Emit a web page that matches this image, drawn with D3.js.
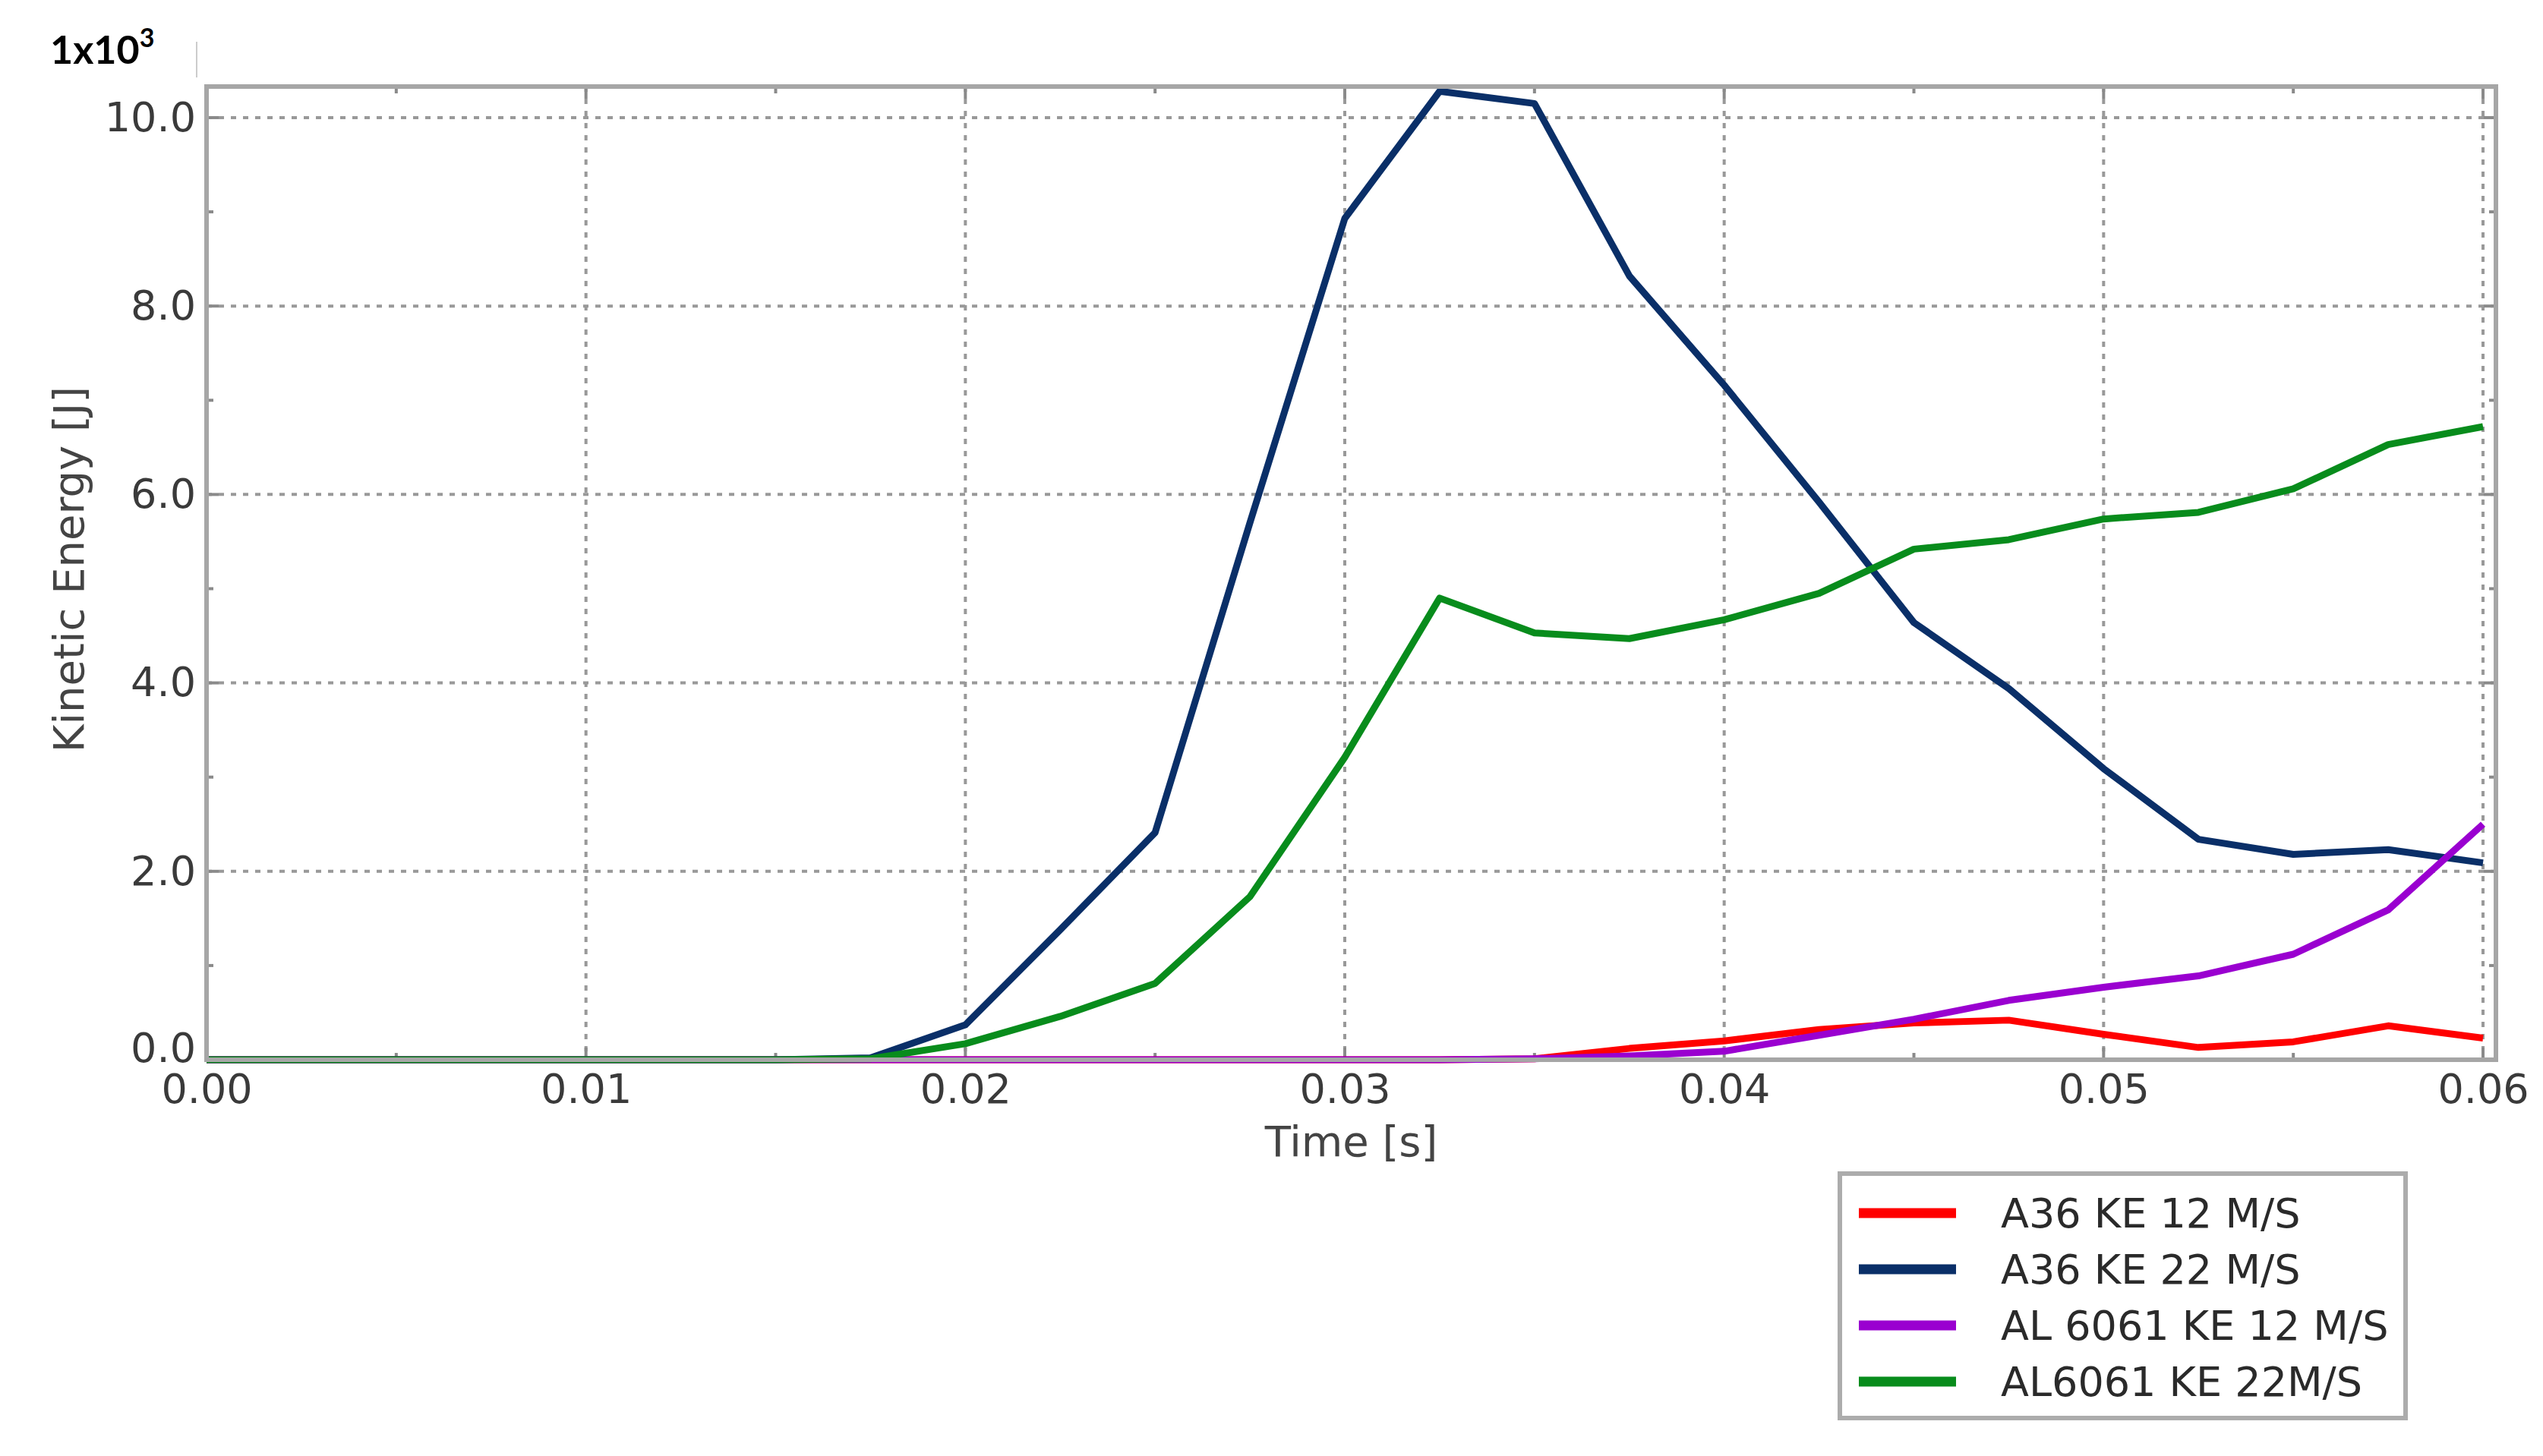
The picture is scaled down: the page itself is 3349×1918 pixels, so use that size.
<!DOCTYPE html>
<html lang="en">
<head>
  <meta charset="UTF-8">
  <title>Kinetic Energy vs Time</title>
  <script src="https://d3js.org/d3.v7.min.js"></script>
  <style>
    html, body {
      margin: 0;
      padding: 0;
      background: #fff;
    }
    svg text {
      font-family: "DejaVu Sans", Verdana, sans-serif;
    }
    .tick-label {
      font-size: 54px;
      fill: #3a3a3a;
    }
    .axis-title {
      font-size: 56px;
      fill: #444;
    }
    .legend-label {
      font-size: 54px;
      fill: #2a2a2a;
    }
  </style>
</head>
<body>
  <div id="chart"></div>

  <script>
    // sample times (s)
    const time = [0, 0.0025, 0.005, 0.0075, 0.01, 0.0125, 0.015, 0.0175, 0.02, 0.0225,
                  0.025, 0.0275, 0.03, 0.0325, 0.035, 0.0375, 0.04, 0.0425, 0.045, 0.0475,
                  0.05, 0.0525, 0.055, 0.0575, 0.06];

    // kinetic energy, x10^3 J
    const a36Ke12 = [0, 0, 0, 0, 0, 0, 0, 0, 0, 0, 0, 0, 0, 0,
                     0.01, 0.12, 0.20, 0.32, 0.39, 0.42, 0.27, 0.13, 0.19, 0.36, 0.23];
    const a36Ke22 = [0, 0, 0, 0, 0, 0, 0, 0.02, 0.37, 1.38, 2.41, 5.70, 8.93, 10.28,
                     10.15, 8.32, 7.16, 5.92, 4.64, 3.94, 3.09, 2.34, 2.18, 2.23, 2.09];
    const al6061Ke12 = [0, 0, 0, 0, 0, 0, 0, 0, 0, 0, 0, 0, 0, 0,
                        0.01, 0.04, 0.09, 0.26, 0.43, 0.63, 0.77, 0.89, 1.12, 1.59, 2.50];
    const al6061Ke22 = [0, 0, 0, 0, 0, 0, 0, 0.01, 0.17, 0.46, 0.81, 1.73, 3.21, 4.90,
                        4.53, 4.47, 4.67, 4.95, 5.42, 5.52, 5.74, 5.81, 6.06, 6.53, 6.72];

    const seriesNames = ['A36 KE 12 M/S', 'A36 KE 22 M/S', 'AL 6061 KE 12 M/S', 'AL6061 KE 22M/S'];
    const seriesValues = [a36Ke12, a36Ke22, al6061Ke12, al6061Ke22];
    const seriesColors = ['#ff0000', '#0a2f68', '#9a00d0', '#088c1c'];

    const xTicks = [0, 0.01, 0.02, 0.03, 0.04, 0.05, 0.06];
    const xMinor = [0.005, 0.015, 0.025, 0.035, 0.045, 0.055];
    const yTicks = [0, 2, 4, 6, 8, 10];
    const yMinor = [1, 3, 5, 7, 9];

    const W = 3349, H = 1918;
    const pLeft = 272, pRight = 3287, pTop = 114, pBottom = 1396;

    const x = d3.scaleLinear().domain([0, 0.06034]).range([pLeft, pRight]);
    const y = d3.scaleLinear().domain([0, 10.33]).range([pBottom, pTop]);

    const svg = d3.select('#chart').append('svg')
      .attr('width', W)
      .attr('height', H);

    svg.append('rect').attr('width', W).attr('height', H).attr('fill', '#fff');

    // multiplier note
    const mult = svg.append('text')
      .attr('x', 66)
      .attr('y', 84)
      .style('font-family', 'Lato, "Open Sans", sans-serif')
      .style('font-size', '52px')
      .style('font-weight', 700)
      .attr('fill', '#000');
    mult.append('tspan').text('1x10');
    mult.append('tspan').attr('dy', -22).style('font-size', '34px').text('3');

    svg.append('line')
      .attr('x1', 259).attr('x2', 259)
      .attr('y1', 55).attr('y2', 102)
      .attr('stroke', '#ccc').attr('stroke-width', 2);

    // grid
    const grid = svg.append('g');
    grid.selectAll('.vgrid')
      .data(xTicks)
      .join('line')
      .attr('x1', d => x(d)).attr('x2', d => x(d))
      .attr('y1', pTop).attr('y2', pBottom)
      .attr('stroke', '#999')
      .attr('stroke-width', 4)
      .attr('stroke-dasharray', '7,9');
    grid.selectAll('.hgrid')
      .data(yTicks)
      .join('line')
      .attr('x1', pLeft).attr('x2', pRight)
      .attr('y1', d => y(d)).attr('y2', d => y(d))
      .attr('stroke', '#999')
      .attr('stroke-width', 4)
      .attr('stroke-dasharray', '7,9');

    // inward tick marks on all four sides
    const ticks = svg.append('g').attr('stroke', '#8a8a8a').attr('stroke-width', 4);
    [[xTicks, 16], [xMinor, 9]].forEach(([vals, len]) => {
      ticks.append('g').selectAll('line').data(vals).join('line')
        .attr('x1', d => x(d)).attr('x2', d => x(d))
        .attr('y1', pBottom).attr('y2', pBottom - len);
      ticks.append('g').selectAll('line').data(vals).join('line')
        .attr('x1', d => x(d)).attr('x2', d => x(d))
        .attr('y1', pTop).attr('y2', pTop + len);
    });
    [[yTicks, 16], [yMinor, 9]].forEach(([vals, len]) => {
      ticks.append('g').selectAll('line').data(vals).join('line')
        .attr('y1', d => y(d)).attr('y2', d => y(d))
        .attr('x1', pLeft).attr('x2', pLeft + len);
      ticks.append('g').selectAll('line').data(vals).join('line')
        .attr('y1', d => y(d)).attr('y2', d => y(d))
        .attr('x1', pRight).attr('x2', pRight - len);
    });

    // tick labels via d3 axes
    const xAxis = svg.append('g')
      .attr('transform', `translate(0,${pBottom})`)
      .call(d3.axisBottom(x).tickValues(xTicks).tickFormat(d3.format('.2f')).tickSize(0).tickPadding(18));
    const yAxis = svg.append('g')
      .attr('transform', `translate(${pLeft},0)`)
      .call(d3.axisLeft(y).tickValues(yTicks).tickFormat(d3.format('.1f')).tickSize(0).tickPadding(14));
    [xAxis, yAxis].forEach(a => {
      a.select('.domain').remove();
      a.attr('font-family', null).attr('font-size', null);
      a.selectAll('text').attr('class', 'tick-label').attr('fill', null);
    });
    xAxis.selectAll('text').attr('dy', '0.72em');
    // the zero label sits a little higher so it clears "0.00"
    yAxis.selectAll('.tick').filter(d => d === 0).select('text').attr('dy', '0.05em');

    // series
    const line = d3.line()
      .x((d, i) => x(time[i]))
      .y(d => y(d));

    svg.append('g')
      .selectAll('path')
      .data(seriesValues)
      .join('path')
      .attr('d', line)
      .attr('fill', 'none')
      .attr('stroke', (d, i) => seriesColors[i])
      .attr('stroke-width', 9)
      .attr('stroke-linejoin', 'round')
      .attr('stroke-linecap', 'butt');

    // frame
    svg.append('rect')
      .attr('x', pLeft).attr('y', pTop)
      .attr('width', pRight - pLeft).attr('height', pBottom - pTop)
      .attr('fill', 'none')
      .attr('stroke', '#a6a6a6')
      .attr('stroke-width', 6);

    // axis titles
    svg.append('text')
      .attr('class', 'axis-title')
      .attr('x', (pLeft + pRight) / 2)
      .attr('y', 1523)
      .attr('text-anchor', 'middle')
      .text('Time [s]');

    svg.append('text')
      .attr('class', 'axis-title')
      .attr('transform', `translate(110,750) rotate(-90)`)
      .attr('text-anchor', 'middle')
      .text('Kinetic Energy [J]');

    // legend
    const legend = svg.append('g');
    legend.append('rect')
      .attr('x', 2423).attr('y', 1546)
      .attr('width', 745).attr('height', 322)
      .attr('fill', '#fff')
      .attr('stroke', '#acacac')
      .attr('stroke-width', 6);

    const rowY = d3.scalePoint().domain(seriesNames).range([1598, 1820]);
    const rows = legend.selectAll('.row')
      .data(seriesNames)
      .join('g')
      .attr('transform', d => `translate(0,${rowY(d)})`);
    rows.append('line')
      .attr('x1', 2448).attr('x2', 2576)
      .attr('stroke', (d, i) => seriesColors[i])
      .attr('stroke-width', 13);
    rows.append('text')
      .attr('class', 'legend-label')
      .attr('x', 2635)
      .attr('dy', '0.36em')
      .text(d => d);
  </script>
</body>
</html>
